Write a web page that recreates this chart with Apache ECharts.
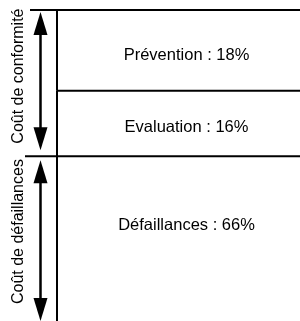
<!DOCTYPE html>
<html><head><meta charset="utf-8">
<script src="https://cdn.jsdelivr.net/npm/echarts@6/dist/echarts.min.js"></script>
<style>html,body{margin:0;padding:0;background:#fff}#c{width:300px;height:321px}</style>
</head><body><div id="c"></div>
<script>
// Data
const categories = ['Prévention', 'Evaluation', 'Défaillances'];
const percentages = [18, 16, 66];
// drawn height shares of each block (schematic, not proportional)
const segmentShares = [26, 21, 53];
const groupNames = ['Coût de conformité', 'Coût de défaillances'];
const groupMembers = [[0, 1], [2, 2]];

// build stacked intervals
const segData = [];
let acc = 0;
segmentShares.forEach((s, i) => { segData.push([acc, acc + s, percentages[i], i]); acc += s; });
const groupData = groupMembers.map((g, i) => [segData[g[0]][0], segData[g[1]][1], i]);

const FONT = 'Liberation Sans, Arial, sans-serif';
const labelDy = [5, 4, -13];
const leftExt = [27, 0, 32];

const chart = echarts.init(document.getElementById('c'), null, {renderer: 'canvas'});
chart.setOption({
  animation: false,
  backgroundColor: '#fff',
  grid: {left: 57, right: -4, top: 10, bottom: 0},
  xAxis: {type: 'value', min: 0, max: 1, show: false},
  yAxis: {type: 'value', min: 0, max: 100, inverse: true, show: false},
  series: [
    {
      type: 'custom',
      data: segData,
      renderItem: function (params, api) {
        const i = api.value(3);
        const p0 = api.coord([0, api.value(0)]);
        const p1 = api.coord([1, api.value(1)]);
        const cx = (p0[0] + 300) / 2 + 8;
        const cy = (p0[1] + p1[1]) / 2 + labelDy[i];
        return {
          type: 'group',
          children: [
            {type: 'line', shape: {x1: p0[0] - leftExt[i], y1: p0[1], x2: p1[0], y2: p0[1]},
             style: {stroke: '#000', lineWidth: 2}},
            {type: 'line', shape: {x1: p0[0], y1: p0[1], x2: p0[0], y2: p1[1]},
             style: {stroke: '#000', lineWidth: 2}},
            {type: 'text', x: cx, y: cy,
             style: {text: categories[i] + ' : ' + api.value(2) + '%', fill: '#000',
                     font: '16.5px ' + FONT, textAlign: 'center', textVerticalAlign: 'middle'}}
          ]
        };
      }
    },
    {
      type: 'custom',
      data: groupData,
      renderItem: function (params, api) {
        const i = api.value(2);
        const p0 = api.coord([0, api.value(0)]);
        const p1 = api.coord([0, api.value(1)]);
        const ax = p0[0] - 16.5;
        const top = p0[1] + (i === 0 ? 2 : 4);
        const bot = p1[1] - (i === 0 ? 6 : 0);
        const hl = 23, hw = 7;
        return {
          type: 'group',
          children: [
            {type: 'line', shape: {x1: ax, y1: top + 10, x2: ax, y2: bot - 10},
             style: {stroke: '#000', lineWidth: 2.5}},
            {type: 'polygon', shape: {points: [[ax, top], [ax - hw, top + hl], [ax + hw, top + hl]]},
             style: {fill: '#000'}},
            {type: 'polygon', shape: {points: [[ax, bot], [ax - hw, bot - hl], [ax + hw, bot - hl]]},
             style: {fill: '#000'}},
            {type: 'text', x: 19, y: (p0[1] + p1[1]) / 2 - 7, rotation: Math.PI / 2,
             style: {text: groupNames[i], fill: '#000', font: '16px ' + FONT,
                     textAlign: 'center', textVerticalAlign: 'middle'}}
          ]
        };
      }
    }
  ]
});
</script></body></html>
